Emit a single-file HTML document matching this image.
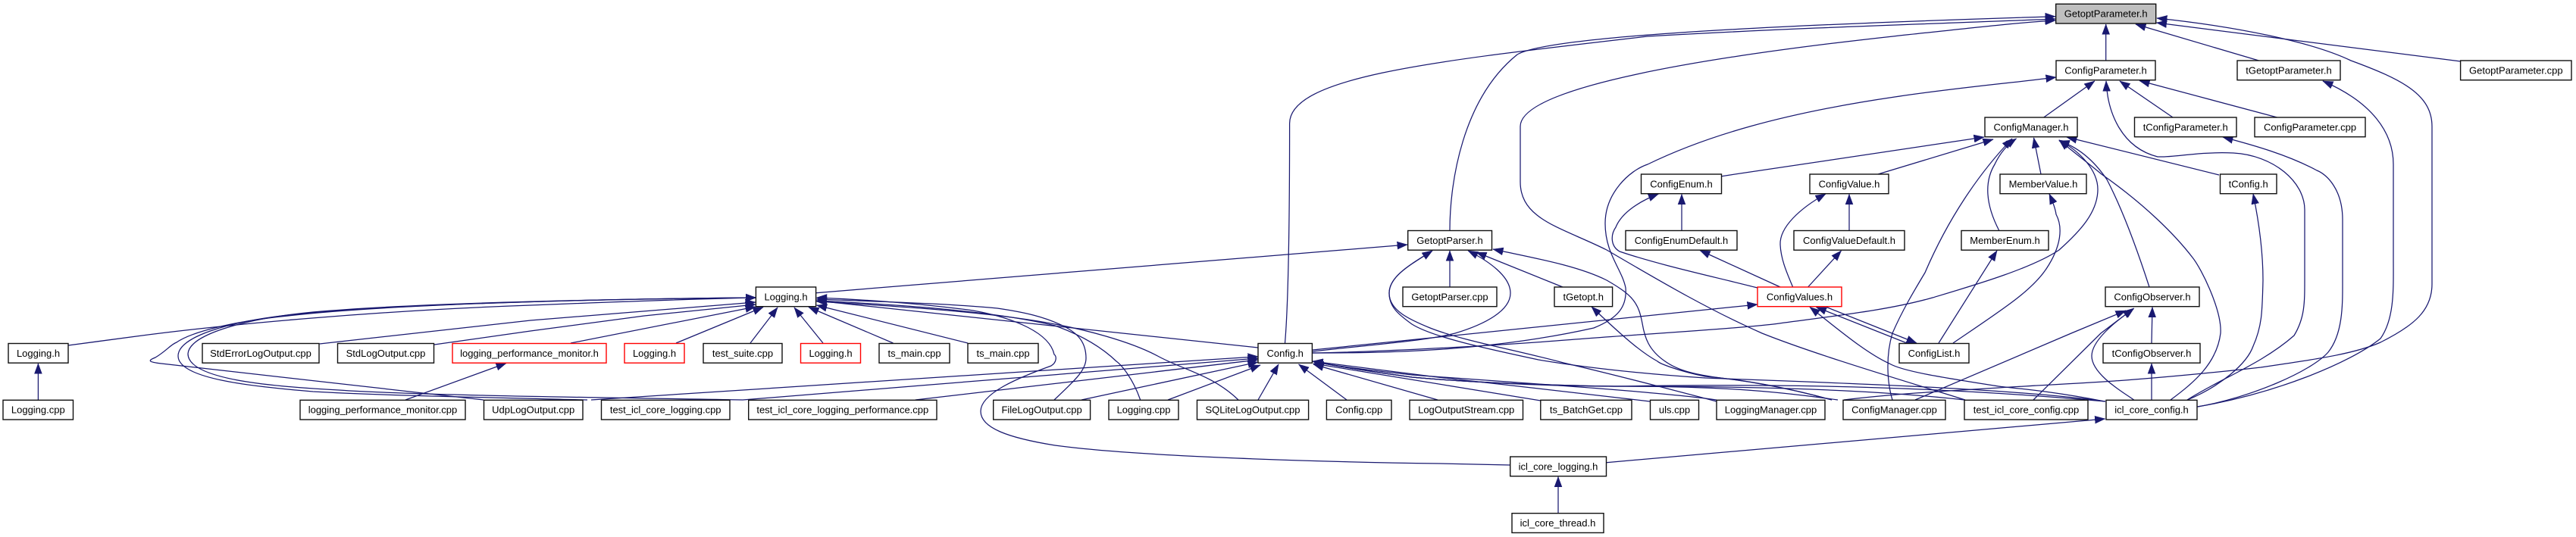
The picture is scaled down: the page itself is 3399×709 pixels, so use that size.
<!DOCTYPE html>
<html><head><meta charset="utf-8"><style>
html,body{margin:0;padding:0;background:#fff}
svg{display:block}
text{font-family:"Liberation Sans",sans-serif;font-size:13px;text-anchor:middle;fill:#000}
.e path{fill:none;stroke:#191970;stroke-width:1.25;marker-end:url(#a)}
.n rect{fill:#fff;stroke:#111;stroke-width:1.4}
.n rect.r{stroke:#f00}
.n rect.g{fill:#bfbfbf}
</style></head><body>
<svg width="3399" height="709" viewBox="0 0 3399 709" xmlns="http://www.w3.org/2000/svg">
<defs><marker id="a" markerUnits="userSpaceOnUse" markerWidth="14" markerHeight="11" refX="13.5" refY="5.5" orient="auto"><path d="M0,0.5 L13.5,5.5 L0,10.5 z" fill="#191970" stroke="#191970" stroke-width="0.5"/></marker></defs>
<g class="e">
<path d="M2778.7,80 L2778.7,32"/>
<path d="M2980.5,80 L2818,32"/>
<path d="M3246.6,81 L2845.5,30"/>
<path d="M2696.7,155 L2763.8,107"/>
<path d="M2867,155 L2797,107"/>
<path d="M3004.6,155 L2823,106.5"/>
<path d="M2693,230 L2683.5,182"/>
<path d="M2928,231 L2727,181"/>
<path d="M2271.6,232.7 L2618,181"/>
<path d="M2478,230 L2630,184"/>
<path d="M2219,304 L2219,256.5"/>
<path d="M2440,304 L2440,256.5"/>
<path d="M2349,379 L2243,330.5"/>
<path d="M2385.6,379 L2429.5,331"/>
<path d="M2516,453 L2396.5,405.5"/>
<path d="M2410,405.5 L2529,453"/>
<path d="M2062,379 L1948,333"/>
<path d="M1913,379 L1913,331"/>
<path d="M2056,677 L2056,629.5"/>
<path d="M2839,528 L2839,480"/>
<path d="M2839,453 L2840,405.6"/>
<path d="M535,528 L668,479.5"/>
<path d="M50.4,528 L50.4,480"/>
<path d="M421.7,454 L700,423 L997,399"/>
<path d="M573,455 L700,437 L850,417 L997,402"/>
<path d="M753,453 L997,405"/>
<path d="M892,453 L1007,405.5"/>
<path d="M990,453 L1026,406"/>
<path d="M1086,453 L1048,406"/>
<path d="M1178.5,453 L1067,405.5"/>
<path d="M1277,453 L1077.6,403"/>
<path d="M1660,459 L1077.6,397"/>
<path d="M1076.6,386.7 L1857,323"/>
<path d="M1732,462 L2319,402"/>
<path d="M780,528 L1660,470.7"/>
<path d="M980,528 L1660,473"/>
<path d="M1207.7,528 L1660,475"/>
<path d="M1427,528 L1660,478"/>
<path d="M1541,528 L1663,482"/>
<path d="M1660,528 L1687,481"/>
<path d="M1777,528 L1713.6,481"/>
<path d="M1897,528 L1733,481"/>
<path d="M2033,529 L1733,480"/>
<path d="M2177,530 L2030,513 L1897,498 L1732,477"/>
<path d="M2265,528 C2200,518 2000,505 1863,495 C1820,490 1770,485 1732,477"/>
<path d="M2425,528 C2340,516 2270,510 2130,510 C2050,509 1940,505 1863,498 C1820,492 1770,485 1732,477"/>
<path d="M2592,528 C2450,512 2270,510 2130,510 C2050,509 1940,505 1863,498 C1820,492 1770,485 1732,477"/>
<path d="M2778,530 C2500,505 2270,508 2130,510 C2050,510 1940,505 1863,498 C1820,492 1770,485 1732,477"/>
<path d="M2527,528 L2733,440 L2805,410"/>
<path d="M2683,528 L2772,440 L2815.6,407"/>
<path d="M2815.6,528 C2805,520 2760,495 2760,470 C2760,450 2790,425 2815,408"/>
<path d="M2119.5,610.7 L2777.6,553"/>
<!-- GetoptParameter curves -->
<path d="M1913,304 C1913,240 1930,130 2002,72 C2040,50 2280,35 2712,21.7"/>
<path d="M1695.5,453 C1700,400 1701.6,300 1701.6,163 C1701.6,100 1900,80 2174,48 C2400,35 2600,30 2712,25"/>
<path d="M2593,528 C2530,508 2400,470 2325,440 C2250,407 2180,365 2120,330 C2060,300 2006,290 2006,240 L2006,167 C2006,115 2250,75 2500,47.7 C2600,37 2660,30 2712,27"/>
<path d="M2433,528 C2500,520 2570,516 2637,512 C2700,508 2750,506 2790,503 C2860,498 2940,490 2983,485 C3050,475 3105,468 3141,452 C3185,430 3209,410 3209,375 L3209,167 C3209,125 3170,105 3102,80 C3050,55 2950,35 2846,24"/>
<!-- ConfigParameter -->
<path d="M1732,466 C1820,466 1960,465 2103,433 C2135,420 2147,405 2145,380 C2140,355 2118,335 2118,295 C2118,255 2150,225 2174,217 C2250,180 2350,150 2500,128 C2580,116 2650,110 2713,102"/>
<path d="M2886,528 C2930,500 2985,480 3027,443 C3041,420 3041,400 3041,370 L3041,277 C3041,240 3000,205 2947,202 C2900,200 2870,208 2847,207 C2800,195 2781,150 2779,107"/>
<!-- right side into icl_core_config -->
<path d="M2899.6,537 C3000,520 3100,480 3141,447 C3160,420 3158,380 3158,340 L3158,217 C3158,175 3130,135 3065,107"/>
<path d="M2899.6,537 C2970,525 3050,490 3072,465 C3092,440 3091,400 3091,370 L3091,290 C3091,250 3070,230 3057,225 C3020,205 2975,192 2933,181"/>
<path d="M2886,528 C2930,510 2965,480 2973,457 C2985,430 2985,410 2986,370 C2986,330 2980,290 2973,256"/>
<path d="M2864,528 C2895,505 2925,480 2930,440 C2932,410 2905,355 2893,340 C2870,310 2830,270 2773,230 C2755,215 2735,200 2717,185"/>
<path d="M2836,379 C2825,345 2805,285 2780,237 C2765,215 2745,195 2717,186"/>
<!-- Config -> ConfigManager -->
<path d="M1732,466 C1800,465 1950,458 2053,450 C2150,442 2280,435 2340,428 C2420,417 2490,410 2550,393 C2600,378 2680,355 2717,330 C2745,305 2768,280 2768,250 C2768,225 2745,200 2717,185"/>
<path d="M2637.6,304 C2620,270 2618,240 2632,217 C2640,200 2650,190 2660.5,183"/>
<path d="M2497,528 C2490,505 2488,470 2497,440 C2510,410 2525,385 2540,360 C2570,290 2610,230 2655,183"/>
<path d="M2558,453 C2585,410 2610,370 2635,331"/>
<path d="M2577,453 C2640,410 2680,385 2700,355 C2720,325 2722,300 2713,283 C2712,275 2708,265 2704,256"/>
<!-- ConfigValues -->
<path d="M2319,380 C2260,365 2190,350 2137,332 C2125,325 2125,310 2132,300 C2140,280 2165,265 2188.4,256"/>
<path d="M2365.6,379 C2360,365 2350,345 2349,323 C2348,300 2375,275 2409,256"/>
<path d="M2777,530 C2700,515 2650,512 2637,510 C2560,498 2510,490 2493,480 C2460,465 2420,430 2388,405.5"/>
<!-- GetoptParser -->
<path d="M1732,464 C1830,453 1880,450 1920,440 C1960,428 1993,410 1993,387 C1993,365 1965,345 1937,331"/>
<path d="M2265,530 C2170,505 2110,490 2063,479 C2000,462 1930,450 1887,433 C1860,422 1833,410 1833,387 C1833,365 1860,350 1890,331"/>
<path d="M2778,530 C2650,512 2400,505 2250,499 C2160,493 2090,485 2030,475 C1960,460 1890,445 1863,428 C1845,415 1833,405 1833,387 C1833,365 1860,350 1890,331"/>
<path d="M2417,528 C2370,515 2320,505 2270,499 C2240,495 2215,490 2197,477 C2175,462 2170,445 2167,427 C2162,400 2155,390 2120,370 C2080,350 2020,340 1970,329"/>
<path d="M2417,528 C2370,515 2310,502 2250,497 C2215,490 2190,480 2187,477 C2165,465 2140,443 2100,405"/>
<!-- icl_core_logging -> Logging.h -->
<path d="M1992.7,614 L1900,612 C1750,610 1500,603 1392,588 C1330,578 1294,565 1294,543 C1294,520 1340,500 1387,483 C1395,478 1394,470 1391,468 C1385,440 1340,420 1284,410 C1210,400 1130,395 1077.6,393"/>
<path d="M1391,528 C1415,505 1433,490 1433,473 C1433,450 1420,440 1408,433 C1380,418 1350,412 1316,407 C1240,400 1150,398 1077.6,395"/>
<path d="M1504.7,528 C1495,500 1480,482 1473,477 C1450,455 1420,440 1392,430 C1310,410 1180,402 1077.6,397"/>
<path d="M1634,528 C1600,495 1560,488 1527.5,470 C1490,450 1430,435 1392,428 C1310,412 1180,404 1077.6,398"/>
<!-- left loops -->
<path d="M90,456 L180,444 C300,428 500,410 700,403 C800,399 900,395 997.4,393"/>
<path d="M638,528 L213,480 C195,478 195,476 205,472 C220,463 225,455 233,452 C250,440 300,425 380,417 C500,403 750,395 997.4,393"/>
<path d="M775,528 C650,525 500,522 413,517 C330,510 235,500 235,470 C235,445 300,425 380,416 C500,403 750,395 997.4,393"/>
<path d="M980,528 C800,525 550,522 447,515 C350,510 248,500 248,467 C250,440 330,420 413,412 C550,400 800,395 997.4,393"/>
</g>
<g class="n">
<rect class="g" x="2712.7" y="5.3" width="132" height="25.7"/><text x="2778.7" y="22.6">GetoptParameter.h</text>
<rect x="2713" y="80" width="131" height="25.7"/><text x="2778.5" y="97.3">ConfigParameter.h</text>
<rect x="2952" y="80" width="136" height="25.7"/><text x="3020" y="97.3">tGetoptParameter.h</text>
<rect x="3246.6" y="80" width="146.4" height="25.7"/><text x="3319.8" y="97.3">GetoptParameter.cpp</text>
<rect x="2619" y="155" width="122" height="25.7"/><text x="2680" y="172.3">ConfigManager.h</text>
<rect x="2816.5" y="155" width="134.5" height="25.7"/><text x="2883.7" y="172.3">tConfigParameter.h</text>
<rect x="2975" y="155" width="146" height="25.7"/><text x="3048" y="172.3">ConfigParameter.cpp</text>
<rect x="2165.5" y="230" width="106" height="25.7"/><text x="2218.5" y="247.3">ConfigEnum.h</text>
<rect x="2388" y="230" width="104" height="25.7"/><text x="2440" y="247.3">ConfigValue.h</text>
<rect x="2639" y="230" width="114" height="25.7"/><text x="2696" y="247.3">MemberValue.h</text>
<rect x="2929.5" y="230" width="74.5" height="25.7"/><text x="2966.7" y="247.3">tConfig.h</text>
<rect x="1857.7" y="304.5" width="110.8" height="25.7"/><text x="1913" y="321.8">GetoptParser.h</text>
<rect x="2145" y="304.5" width="147" height="25.7"/><text x="2218.5" y="321.8">ConfigEnumDefault.h</text>
<rect x="2367" y="304.5" width="146" height="25.7"/><text x="2440" y="321.8">ConfigValueDefault.h</text>
<rect x="2588" y="304.5" width="115" height="25.7"/><text x="2645.5" y="321.8">MemberEnum.h</text>
<rect x="997.4" y="379" width="79.2" height="25.7"/><text x="1037" y="396.3">Logging.h</text>
<rect x="1851" y="379" width="124" height="25.7"/><text x="1913" y="396.3">GetoptParser.cpp</text>
<rect x="2051" y="379" width="76.6" height="25.7"/><text x="2089.3" y="396.3">tGetopt.h</text>
<rect class="r" x="2319" y="379" width="111" height="25.7"/><text x="2374.5" y="396.3">ConfigValues.h</text>
<rect x="2778" y="379" width="124" height="25.7"/><text x="2840" y="396.3">ConfigObserver.h</text>
<rect x="11" y="453.5" width="79" height="25.7"/><text x="50.5" y="470.8">Logging.h</text>
<rect x="267" y="453.5" width="154" height="25.7"/><text x="344" y="470.8">StdErrorLogOutput.cpp</text>
<rect x="445.5" y="453.5" width="127" height="25.7"/><text x="509" y="470.8">StdLogOutput.cpp</text>
<rect class="r" x="597" y="453.5" width="203" height="25.7"/><text x="698.5" y="470.8">logging_performance_monitor.h</text>
<rect class="r" x="824" y="453.5" width="79" height="25.7"/><text x="863.5" y="470.8">Logging.h</text>
<rect x="928" y="453.5" width="104" height="25.7"/><text x="980" y="470.8">test_suite.cpp</text>
<rect class="r" x="1056.5" y="453.5" width="79" height="25.7"/><text x="1096" y="470.8">Logging.h</text>
<rect x="1160" y="453.5" width="93" height="25.7"/><text x="1206.5" y="470.8">ts_main.cpp</text>
<rect x="1277" y="453.5" width="93" height="25.7"/><text x="1323.5" y="470.8">ts_main.cpp</text>
<rect x="1660" y="453.5" width="71.4" height="25.7"/><text x="1695.7" y="470.8">Config.h</text>
<rect x="2506" y="453.5" width="92" height="25.7"/><text x="2552" y="470.8">ConfigList.h</text>
<rect x="2775" y="453.5" width="128" height="25.7"/><text x="2839" y="470.8">tConfigObserver.h</text>
<rect x="4" y="528.3" width="92.5" height="25.7"/><text x="50.3" y="545.6">Logging.cpp</text>
<rect x="396" y="528.3" width="218" height="25.7"/><text x="505" y="545.6">logging_performance_monitor.cpp</text>
<rect x="638.5" y="528.3" width="130.5" height="25.7"/><text x="703.7" y="545.6">UdpLogOutput.cpp</text>
<rect x="793.5" y="528.3" width="169.5" height="25.7"/><text x="878.2" y="545.6">test_icl_core_logging.cpp</text>
<rect x="987.7" y="528.3" width="248.3" height="25.7"/><text x="1111.8" y="545.6">test_icl_core_logging_performance.cpp</text>
<rect x="1310.7" y="528.3" width="127.9" height="25.7"/><text x="1374.6" y="545.6">FileLogOutput.cpp</text>
<rect x="1463" y="528.3" width="92" height="25.7"/><text x="1509" y="545.6">Logging.cpp</text>
<rect x="1579.5" y="528.3" width="147.1" height="25.7"/><text x="1653" y="545.6">SQLiteLogOutput.cpp</text>
<rect x="1750.4" y="528.3" width="85.6" height="25.7"/><text x="1793.2" y="545.6">Config.cpp</text>
<rect x="1860" y="528.3" width="149.5" height="25.7"/><text x="1934.7" y="545.6">LogOutputStream.cpp</text>
<rect x="2032.8" y="528.3" width="120.2" height="25.7"/><text x="2092.9" y="545.6">ts_BatchGet.cpp</text>
<rect x="2177.5" y="528.3" width="64" height="25.7"/><text x="2209.5" y="545.6">uls.cpp</text>
<rect x="2265" y="528.3" width="143" height="25.7"/><text x="2336.5" y="545.6">LoggingManager.cpp</text>
<rect x="2432" y="528.3" width="135" height="25.7"/><text x="2499.5" y="545.6">ConfigManager.cpp</text>
<rect x="2592" y="528.3" width="163" height="25.7"/><text x="2673.5" y="545.6">test_icl_core_config.cpp</text>
<rect x="2779" y="528.3" width="120" height="25.7"/><text x="2839" y="545.6">icl_core_config.h</text>
<rect x="1992.7" y="603" width="126.8" height="25.7"/><text x="2056" y="620.3">icl_core_logging.h</text>
<rect x="1995" y="677.7" width="121" height="25.7"/><text x="2055.5" y="695">icl_core_thread.h</text>
</g>
</svg>
</body></html>
